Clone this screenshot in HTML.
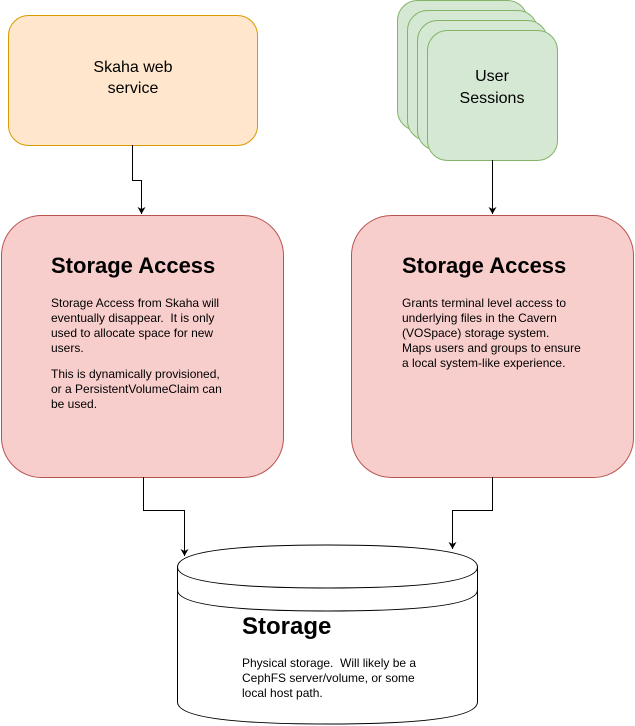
<!DOCTYPE html>
<html><head><style>body{margin:0;background:#fff}svg{display:block}text{white-space:pre}</style></head><body>
<svg width="635" height="726" xmlns="http://www.w3.org/2000/svg" font-family="Liberation Sans, Helvetica, sans-serif">
<defs><marker id="a" markerWidth="8" markerHeight="8" refX="7" refY="4" orient="auto" markerUnits="userSpaceOnUse"><path d="M0,0 L7,4 L0,8 L2,4 Z" fill="#000"/></marker></defs>
<rect x="8.5" y="15.5" width="249" height="130" rx="20" fill="#ffe6cc" stroke="#d79b00"/>
<text x="133" y="72" font-size="16" text-anchor="middle">Skaha web</text>
<text x="133" y="93" font-size="16" text-anchor="middle">service</text>
<g fill="#d5e8d4" stroke="#82b366">
<rect x="397.5" y="0.5" width="130" height="130" rx="20"/>
<rect x="407.5" y="10.5" width="130" height="130" rx="20"/>
<rect x="417.5" y="20.5" width="130" height="130" rx="20"/>
<rect x="427.5" y="30.5" width="130" height="130" rx="20"/>
</g>
<text x="492" y="81" font-size="16" text-anchor="middle">User</text>
<text x="492" y="103" font-size="16" text-anchor="middle">Sessions</text>
<g fill="#f8cecc" stroke="#b85450">
<rect x="1.5" y="215.5" width="282" height="262" rx="40"/>
<rect x="351.5" y="215.5" width="282" height="262" rx="40"/>
</g>
<g fill="none" stroke="#000">
<path d="M132.5 145 V180.5 H141.5 V214" marker-end="url(#a)"/>
<path d="M492.5 160 V214" marker-end="url(#a)"/>
<path d="M143.5 477 V510.5 H184.5 V556" marker-end="url(#a)"/>
<path d="M492.5 477 V510.5 H452.5 V549" marker-end="url(#a)"/>
</g>
<g font-weight="bold" font-size="22"><text x="51" y="273">Storage Access</text><text x="402" y="273">Storage Access</text></g>
<g font-size="12">
<text x="51" y="307">Storage Access from Skaha will</text>
<text x="51" y="322">eventually disappear.  It is only</text>
<text x="51" y="337">used to allocate space for new</text>
<text x="51" y="352">users.</text>
<text x="51" y="378">This is dynamically provisioned,</text>
<text x="51" y="393">or a PersistentVolumeClaim can</text>
<text x="51" y="408">be used.</text>
<text x="402" y="307">Grants terminal level access to</text>
<text x="402" y="322">underlying files in the Cavern</text>
<text x="402" y="337">(VOSpace) storage system.</text>
<text x="402" y="352">Maps users and groups to ensure</text>
<text x="402" y="367">a local system-like experience.</text>
</g>
<g fill="#fff" stroke="#000">
<path d="M177.5 567 Q177.5 545 327.5 545 Q477.5 545 477.5 567 V702 Q477.5 724 327.5 724 Q177.5 724 177.5 702 Z"/>
<path d="M177.5 567 Q177.5 588 327.5 588 Q477.5 588 477.5 567" fill="none"/>
<path d="M177.5 590 Q177.5 611 327.5 611 Q477.5 611 477.5 590" fill="none"/>
</g>
<text x="242" y="634" font-size="24" font-weight="bold">Storage</text>
<g font-size="12"><text x="242" y="667">Physical storage.  Will likely be a</text>
<text x="242" y="682">CephFS server/volume, or some</text>
<text x="242" y="697">local host path.</text></g>
</svg>
</body></html>
